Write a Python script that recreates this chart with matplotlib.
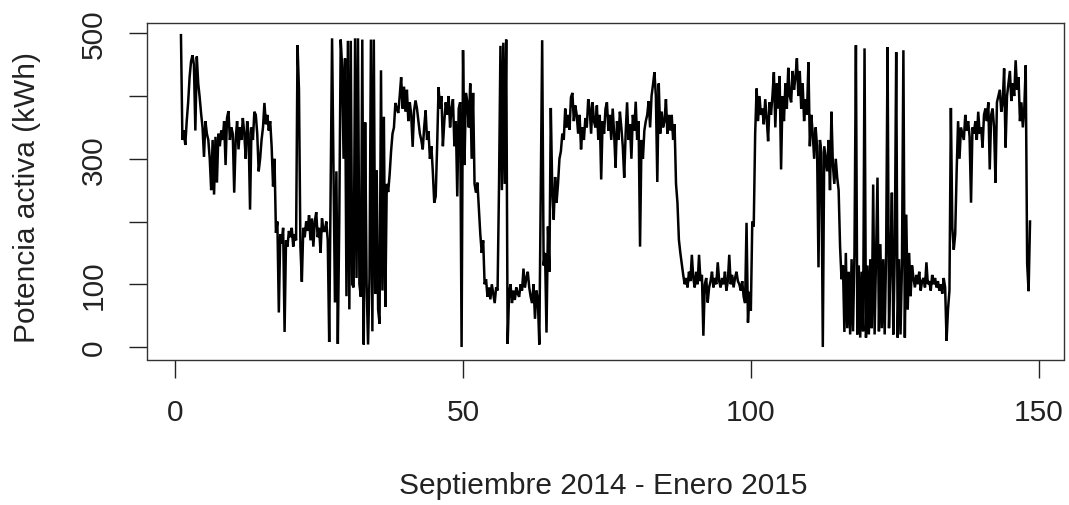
import numpy as np
import matplotlib
matplotlib.use("Agg")
import matplotlib.pyplot as plt

# Active power readings, 4 readings per day, day 1 .. day 148
day_values = [
    [497, 330, 345, 322], [360, 390, 430, 455], [465, 450, 345, 463], [420, 398, 372, 350],
    [303, 360, 340, 330], [300, 250, 330, 243], [335, 262, 340, 320], [345, 330, 360, 290],
    [365, 376, 330, 350], [340, 246, 330, 360], [315, 350, 330, 365], [340, 300, 360, 340],
    [219, 350, 330, 375], [370, 340, 280, 300], [330, 350, 389, 355], [370, 345, 360, 320],
    [256, 300, 182, 200], [55, 180, 165, 190], [24, 170, 160, 185], [175, 190, 160, 180],
    [170, 481, 410, 160], [104, 190, 175, 200], [185, 210, 170, 205], [160, 200, 215, 175],
    [190, 150, 205, 185], [185, 200, 170, 8], [248, 492, 282, 71], [280, 5, 200, 490],
    [446, 300, 460, 81], [488, 60, 488, 100], [95, 492, 110, 492], [100, 80, 490, 4],
    [358, 100, 4, 110], [490, 25, 490, 85], [282, 60, 37, 441], [90, 367, 64, 260],
    [247, 275, 312, 340], [350, 389, 380, 373], [400, 430, 380, 415], [375, 410, 360, 390],
    [370, 319, 377, 393], [380, 360, 340, 330], [315, 350, 377, 330], [344, 300, 320, 280],
    [230, 240, 320, 414], [380, 400, 320, 360], [390, 370, 400, 350], [380, 395, 320, 360],
    [240, 380, 390, 0], [473, 290, 405, 390], [350, 420, 300, 405], [260, 246, 262, 220],
    [180, 150, 170, 100], [108, 80, 95, 76], [100, 85, 70, 95], [90, 256, 480, 250],
    [485, 260, 490, 5], [85, 100, 70, 90], [75, 95, 85, 80], [100, 90, 125, 95],
    [110, 120, 95, 80], [70, 100, 45, 90], [75, 4, 256, 489], [130, 150, 23, 192],
    [120, 381, 250, 203], [271, 230, 260, 300], [312, 340, 330, 380], [350, 370, 346, 398],
    [405, 360, 385, 370], [340, 370, 315, 350], [330, 365, 350, 395], [380, 340, 390, 360],
    [350, 385, 330, 370], [267, 360, 340, 380], [390, 345, 370, 330], [380, 340, 286, 360],
    [330, 375, 350, 320], [270, 340, 390, 330], [355, 300, 370, 345], [391, 330, 360, 160],
    [330, 300, 345, 360], [370, 392, 350, 400], [418, 438, 400, 263], [420, 340, 375, 350],
    [360, 395, 340, 370], [345, 370, 330, 355], [260, 230, 171, 150], [132, 115, 100, 110],
    [95, 120, 105, 147], [110, 95, 120, 100], [147, 105, 115, 18], [100, 110, 71, 95],
    [105, 120, 95, 110], [100, 135, 105, 95], [110, 100, 120, 90], [105, 147, 100, 115],
    [95, 110, 120, 105], [100, 90, 105, 80], [70, 198, 39, 88], [58, 200, 192, 340],
    [412, 360, 400, 370], [380, 355, 395, 365], [328, 390, 370, 400], [438, 350, 420, 380],
    [432, 283, 400, 360], [420, 380, 445, 400], [390, 440, 410, 430], [460, 400, 440, 380],
    [420, 360, 395, 370], [454, 320, 370, 340], [300, 350, 320, 127], [330, 310, 0, 320],
    [300, 280, 330, 250], [375, 290, 260, 300], [270, 250, 160, 108], [130, 24, 150, 30],
    [120, 20, 140, 25], [150, 481, 20, 130], [15, 120, 25, 476], [15, 130, 20, 140],
    [30, 259, 20, 150], [270, 25, 164, 30], [140, 20, 150, 478], [30, 130, 246, 20],
    [150, 470, 15, 140], [20, 130, 473, 15], [211, 60, 150, 81], [130, 110, 95, 115],
    [100, 120, 90, 105], [110, 95, 135, 100], [105, 90, 115, 100], [110, 95, 105, 90],
    [100, 85, 110, 95], [10, 60, 90, 381], [190, 155, 180, 280], [360, 300, 350, 340],
    [330, 370, 345, 360], [335, 230, 350, 340], [360, 330, 375, 340], [350, 318, 370, 380],
    [360, 390, 283, 370], [380, 350, 262, 390], [400, 410, 375, 390], [444, 318, 400, 420],
    [440, 392, 420, 400], [457, 410, 430, 360], [390, 350, 380, 449], [133, 89, 200],
]
readings_per_day = 4
first_day = 1

x_label = "Septiembre 2014 - Enero 2015"
y_label = "Potencia activa (kWh)"
x_ticks = [0, 50, 100, 150]
y_ticks = [0, 100, 200, 300, 400, 500]
y_ticklabels = ["0", "100", "", "300", "", "500"]

y = np.array([v for row in day_values for v in row], dtype=float)
x = first_day + np.arange(len(y)) / readings_per_day

plt.rcParams['font.family'] = ['Liberation Sans', 'DejaVu Sans']
fig = plt.figure(figsize=(10.69, 5.06), dpi=100)
ax = fig.add_axes([147 / 1069, 1 - 360.5 / 506, (1064 - 147) / 1069, (360.5 - 23.7) / 506])
ax.plot(x, y, color='black', lw=1.8, solid_joinstyle='miter')

# R-style 4% padding
xr = x.max() - x.min()
yr = y.max() - y.min()
ax.set_xlim(x.min() - 0.04 * xr, x.max() + 0.04 * xr)
ax.set_ylim(y.min() - 0.04 * yr, y.max() + 0.04 * yr)

ax.set_xticks(x_ticks)
ax.set_yticks(y_ticks)
ax.set_yticklabels(y_ticklabels)
fs = 21.5
ax.tick_params(axis='x', direction='out', length=13, width=1, labelsize=fs, pad=15, colors='#222222')
ax.tick_params(axis='y', direction='out', length=13, width=1, labelsize=fs, pad=15, labelrotation=90, colors='#222222')
for lab in ax.get_yticklabels():
    lab.set_verticalalignment('center')
for s in ax.spines.values():
    s.set_linewidth(1.0)
    s.set_color('#333333')

fig.text(603 / 1069, 1 - 486 / 506, x_label, ha='center', va='center', fontsize=fs, color='#222222')
fig.text(27 / 1069, 1 - 198 / 506, y_label, ha='center', va='center', rotation=90, fontsize=fs, color='#222222')

fig.savefig('out.png', dpi=100)
